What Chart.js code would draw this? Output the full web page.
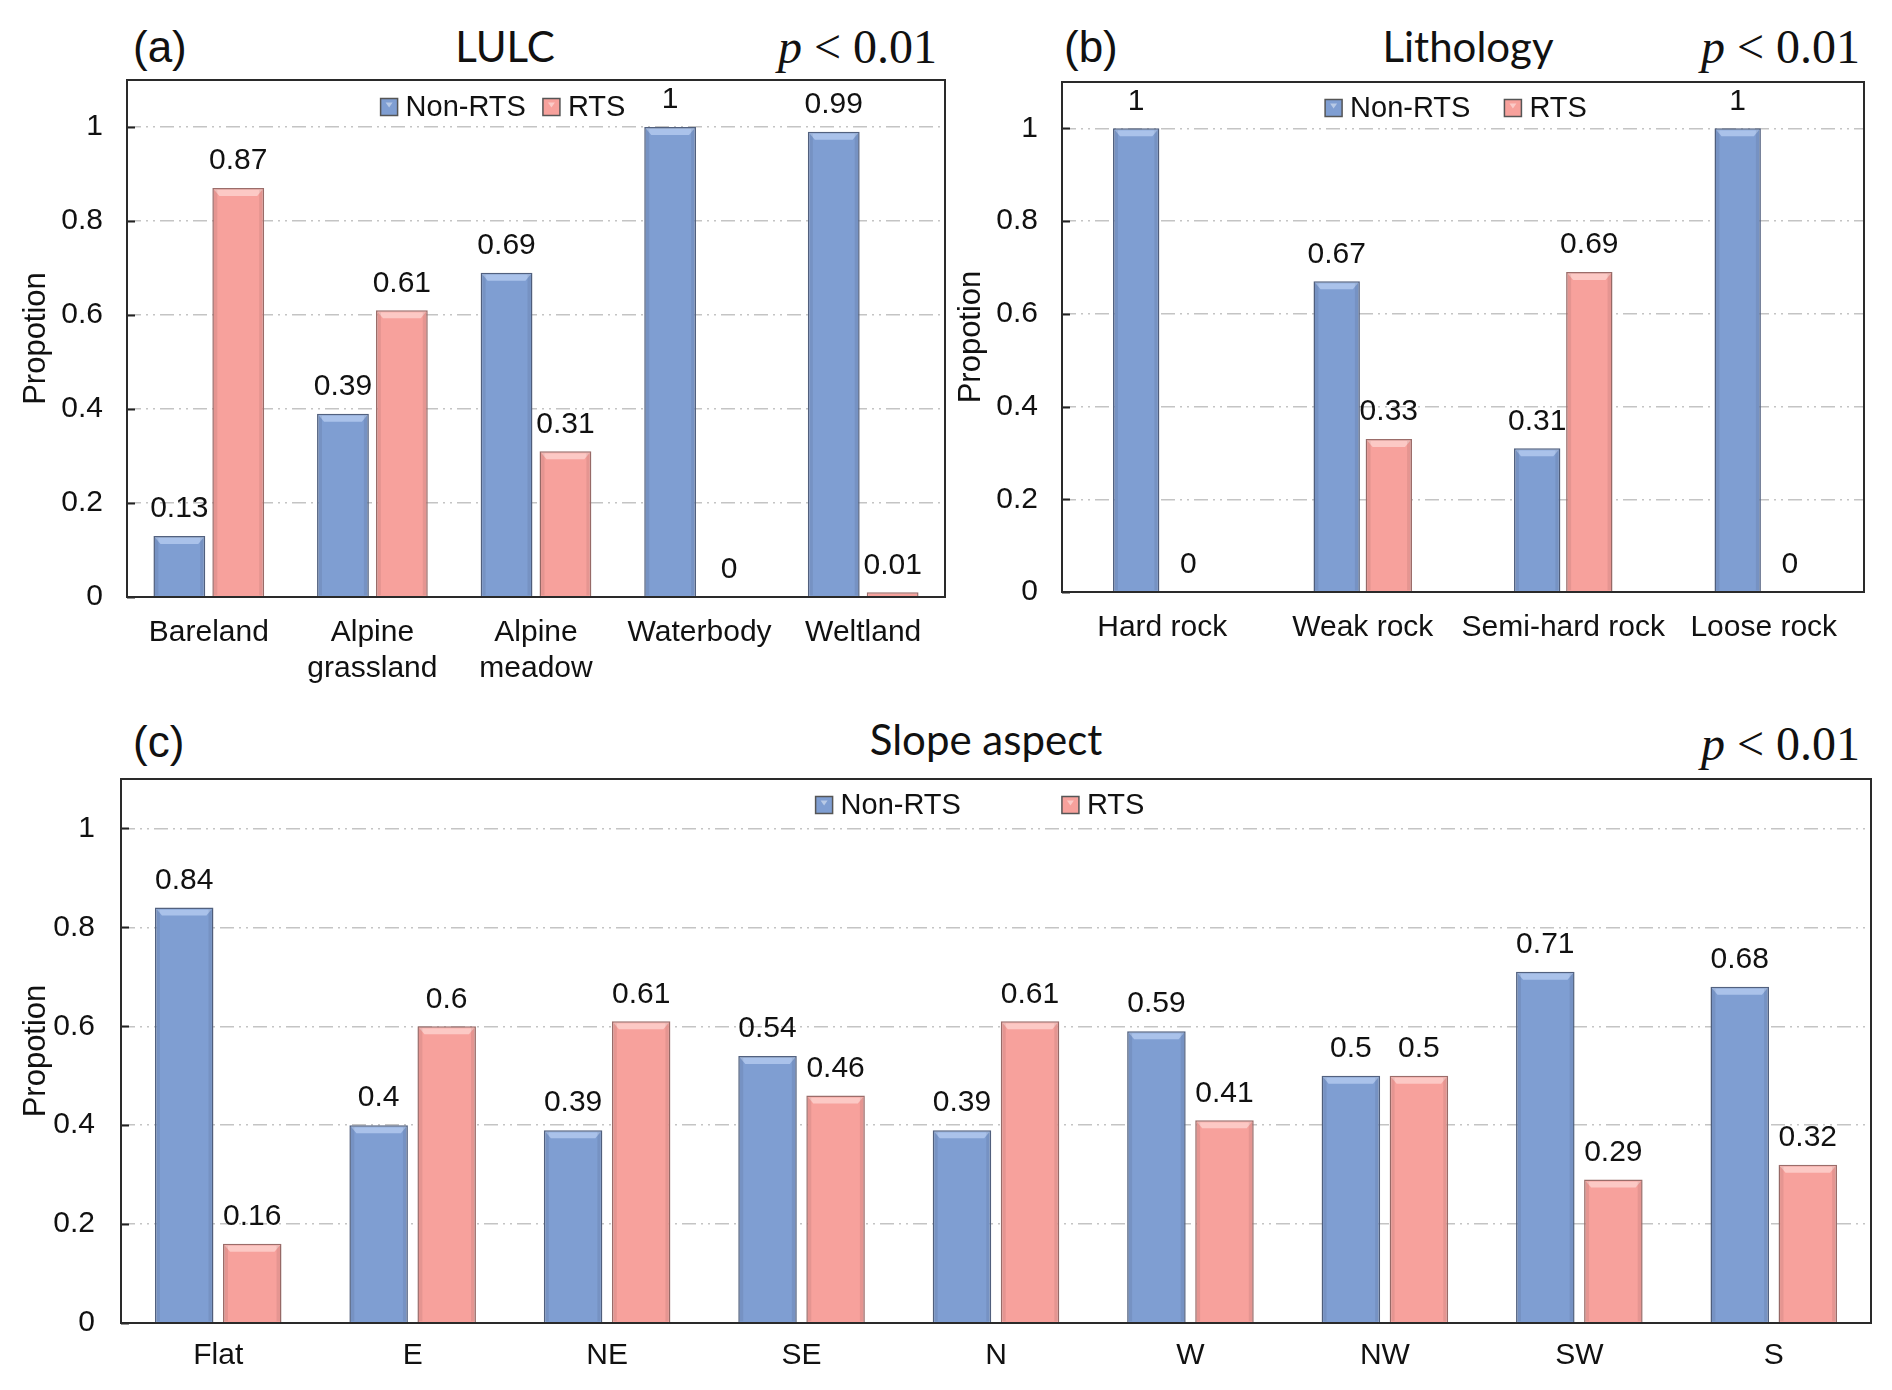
<!DOCTYPE html>
<html>
<head>
<meta charset="utf-8">
<script src="https://cdn.jsdelivr.net/npm/chart.js@4.4.1/dist/chart.umd.min.js"></script>
<style>
  body { margin: 0; background: #fff; width: 1892px; height: 1390px; position: relative; overflow: hidden; }
  .cv { position: absolute; }
  .lab { position: absolute; white-space: nowrap; color: #111; line-height: 1; }
  .tag { font-family: 'Liberation Sans', Arial, sans-serif; font-size: 44px; }
  .ttl { font-family: Lato, sans-serif; font-size: 42px; transform: translateX(-50%); }
  .pv { font-family: 'Liberation Serif', serif; font-size: 48px; }
</style>
</head>
<body>
<div class="lab tag" style="left:133px;top:25px">(a)</div>
<div class="lab ttl" style="left:505px;top:25px">LULC</div>
<div class="lab pv" style="right:955px;top:23px"><i>p</i> &lt; 0.01</div>

<div class="lab tag" style="left:1064px;top:25px">(b)</div>
<div class="lab ttl" style="left:1468px;top:25px">Lithology</div>
<div class="lab pv" style="right:32px;top:23px"><i>p</i> &lt; 0.01</div>

<div class="lab tag" style="left:133px;top:720px">(c)</div>
<div class="lab ttl" style="left:986px;top:718px">Slope aspect</div>
<div class="lab pv" style="right:32px;top:720px"><i>p</i> &lt; 0.01</div>

<div class="cv" style="left:0;top:0;width:1000px;height:700px"><canvas id="chA"></canvas></div>
<div class="cv" style="left:935px;top:0;width:957px;height:700px"><canvas id="chB"></canvas></div>
<div class="cv" style="left:0;top:700px;width:1892px;height:690px"><canvas id="chC"></canvas></div>

<script>
// --- dados ---
const lulcLabels = ['Bareland', ['Alpine', 'grassland'], ['Alpine', 'meadow'], 'Waterbody', 'Weltland'];
const lulcNonRts = [0.13, 0.39, 0.69, 1, 0.99];
const lulcRts = [0.87, 0.61, 0.31, 0, 0.01];

const lithoLabels = ['Hard rock', 'Weak rock', 'Semi-hard rock', 'Loose rock'];
const lithoNonRts = [1, 0.67, 0.31, 1];
const lithoRts = [0, 0.33, 0.69, 0];

const aspectLabels = ['Flat', 'E', 'NE', 'SE', 'N', 'W', 'NW', 'SW', 'S'];
const aspectNonRts = [0.84, 0.4, 0.39, 0.54, 0.39, 0.59, 0.5, 0.71, 0.68];
const aspectRts = [0.16, 0.6, 0.61, 0.46, 0.61, 0.41, 0.5, 0.29, 0.32];

const yTickValues = [0, 0.2, 0.4, 0.6, 0.8, 1];

const FONT = "'Liberation Sans', Arial, sans-serif";
const BLUE = '#7f9ed2', BLUE_EDGE = '#52617f', BLUE_LIGHT = '#aac2ea';
const PINK = '#f7a19c', PINK_EDGE = '#9b6d6a', PINK_LIGHT = '#fcc9c5';
const TEXT = '#111';

// caixa, ticks internos, rotulos de valor e legenda desenhados a mao
const panelPlugin = {
  id: 'panel',
  afterDatasetsDraw(chart) {
    const ctx = chart.ctx;
    const lights = [BLUE_LIGHT, PINK_LIGHT];
    ctx.save();
    chart.data.datasets.forEach((ds, di) => {
      const meta = chart.getDatasetMeta(di);
      meta.data.forEach((el, i) => {
        const p = el.getProps(['x', 'y', 'base', 'width'], true);
        const x0 = p.x - p.width / 2, x1 = p.x + p.width / 2;
        const h = p.base - p.y;
        if (h > 10) {
          // bisel no topo
          ctx.fillStyle = lights[di];
          ctx.beginPath();
          ctx.moveTo(x0 + 2, p.y + 2);
          ctx.lineTo(x1 - 2, p.y + 2);
          ctx.lineTo(x1 - 7, p.y + 8);
          ctx.lineTo(x0 + 7, p.y + 8);
          ctx.closePath();
          ctx.fill();
          ctx.fillStyle = 'rgba(0,0,0,0.07)';
          ctx.fillRect(x0 + 1, p.y + 2, 4, h - 3);
          ctx.fillRect(x1 - 5, p.y + 2, 4, h - 3);
        }
        // valor
        ctx.fillStyle = TEXT;
        ctx.font = '30px ' + FONT;
        ctx.textAlign = 'center';
        ctx.textBaseline = 'bottom';
        ctx.fillText(String(ds.data[i]), p.x, p.y - 12);
      });
    });
    ctx.restore();
  },
  afterDraw(chart) {
    const ctx = chart.ctx;
    const a = chart.chartArea;
    const o = chart.options.plugins.panel;
    ctx.save();
    // ticks para dentro
    const ys = chart.scales.y;
    ctx.strokeStyle = '#222';
    ctx.lineWidth = 2;
    ys.ticks.forEach(t => {
      const y = Math.round(ys.getPixelForValue(t.value)) + 0.5;
      ctx.beginPath();
      ctx.moveTo(a.left, y);
      ctx.lineTo(a.left + 8, y);
      ctx.stroke();
    });
    ctx.strokeStyle = '#2a2a2a';
    ctx.lineWidth = 2;
    ctx.strokeRect(a.left, a.top, a.right - a.left, a.bottom - a.top);

    // legenda
    ctx.font = '29px ' + FONT;
    ctx.textBaseline = 'middle';
    ctx.textAlign = 'left';
    const box = 17, tgap = 8;
    const items = chart.data.datasets.map(d => ({ text: d.label, fill: d.backgroundColor, edge: d.borderColor }));
    const widths = items.map(it => box + tgap + ctx.measureText(it.text).width);
    const total = widths.reduce((s, w) => s + w, 0) + o.gap * (items.length - 1);
    let x = o.legendX - total / 2;
    items.forEach((it, k) => {
      const y = o.legendY;
      ctx.fillStyle = it.fill;
      ctx.fillRect(x, y - box / 2, box, box);
      ctx.fillStyle = 'rgba(255,255,255,0.45)';
      ctx.beginPath();
      ctx.moveTo(x + 5, y - box / 2 + 4);
      ctx.lineTo(x + box - 5, y - box / 2 + 4);
      ctx.lineTo(x + box / 2, y - box / 2 + 9);
      ctx.closePath();
      ctx.fill();
      ctx.strokeStyle = '#555';
      ctx.lineWidth = 1.5;
      ctx.strokeRect(x, y - box / 2, box, box);
      ctx.fillStyle = TEXT;
      ctx.fillText(it.text, x + box + tgap, y + 1);
      x += widths[k] + o.gap;
    });
    ctx.restore();
  }
};

function criarPainel(id, labels, nonRts, rts, cfg) {
  return new Chart(document.getElementById(id), {
    type: 'bar',
    data: {
      labels: labels,
      datasets: [
        { label: 'Non-RTS', data: nonRts, backgroundColor: BLUE, borderColor: BLUE_EDGE, borderWidth: 1.5,
          categoryPercentage: cfg.cat, barPercentage: cfg.bar },
        { label: 'RTS', data: rts, backgroundColor: PINK, borderColor: PINK_EDGE, borderWidth: 1.5,
          categoryPercentage: cfg.cat, barPercentage: cfg.bar }
      ]
    },
    options: {
      responsive: true,
      maintainAspectRatio: false,
      animation: false,
      layout: { padding: { top: cfg.top, right: cfg.right, left: 0, bottom: 0 } },
      plugins: {
        legend: { display: false },
        tooltip: { enabled: false },
        panel: { legendX: cfg.legendX, legendY: cfg.legendY, gap: cfg.gap }
      },
      scales: {
        x: {
          grid: { display: false },
          border: { display: false },
          ticks: { font: { family: FONT, size: 30, lineHeight: 1.2 }, color: TEXT, padding: cfg.xpad, maxRotation: 0, autoSkip: false },
          afterFit: s => { s.height = cfg.xh; }
        },
        y: {
          min: 0,
          max: 1.1,
          afterBuildTicks: s => { s.ticks = yTickValues.map(v => ({ value: v })); },
          afterFit: s => { s.width = cfg.yw; },
          ticks: { font: { family: FONT, size: 30 }, color: TEXT, padding: cfg.ypad, callback: v => String(v) },
          grid: { drawTicks: false, lineWidth: 1.5, color: c => (c.tick && c.tick.value === 0) ? 'rgba(0,0,0,0)' : '#c4c4c4' },
          border: { display: false, dash: [14, 5, 2, 5, 2, 5] },
          title: { display: true, text: 'Propotion', color: TEXT, font: { family: FONT, size: 31 }, padding: { top: 18, bottom: 0 } }
        }
      }
    },
    plugins: [panelPlugin]
  });
}

criarPainel('chA', lulcLabels, lulcNonRts, lulcRts,
  { cat: 0.72, bar: 0.88, top: 80, right: 55, xh: 103, xpad: 10, yw: 127, ypad: 24, legendX: 503, legendY: 107, gap: 17 });
criarPainel('chB', lithoLabels, lithoNonRts, lithoRts,
  { cat: 0.52, bar: 0.89, top: 82, right: 28, xh: 108, xpad: 10, yw: 127, ypad: 24, legendX: 521, legendY: 108, gap: 34 });
criarPainel('chC', aspectLabels, aspectNonRts, aspectRts,
  { cat: 0.70, bar: 0.86, top: 79, right: 21, xh: 67, xpad: 7, yw: 121, ypad: 26, legendX: 980, legendY: 105, gap: 101 });
</script>
</body>
</html>
